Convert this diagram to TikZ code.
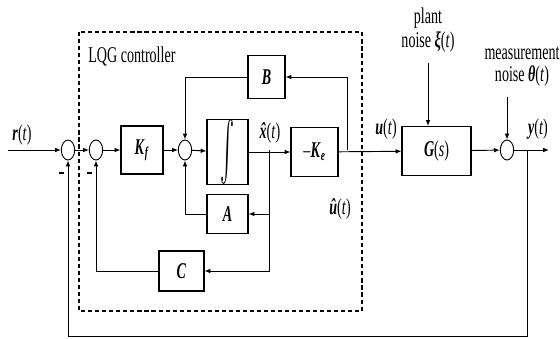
\documentclass[tikz,border=0pt]{standalone}
\usepackage{fontspec}
\setmainfont{Liberation Serif}
\usepackage{graphicx}
\usetikzlibrary{arrows.meta,shapes.geometric}

\newcommand{\bi}[1]{\textbf{\textit{#1}}}
\newcommand{\tall}[1]{\scalebox{1}[1.6]{#1}}
\newcommand{\hatbi}[1]{\ooalign{\bi{#1}\cr\hidewidth\bi{ˆ}\hidewidth\cr}}

\begin{document}
\begin{tikzpicture}[x=0.03cm, y=-0.03cm,
  blk/.style={draw, line width=0.9pt, inner sep=0pt, font=\large},
  sumnode/.style={draw, ellipse, line width=0.8pt, minimum width=0.4cm, minimum height=0.6cm, inner sep=0pt},
  sig/.style={line width=0.8pt, -{Latex[length=5pt, width=4pt]}},
  lbl/.style={font=\large, inner sep=1pt},
  ctrlbox/.style={line width=1pt, dash pattern=on 3.5pt off 2.5pt},
]
\useasboundingbox (0,0) rectangle (560,339);

%% -- Controller frame ---------------------------------------------------------
\draw[ctrlbox] (79,32) rectangle (362,311);
\node[lbl, anchor=west] (ctrl) at (87,57) {\tall{LQG controller}};

%% -- Summing junctions --------------------------------------------------------
\node[sumnode] (s1) at (68,150) {};
\node[sumnode] (s2) at (96,150) {};
\node[sumnode] (s3) at (185,150) {};
\node[sumnode] (s4) at (507,150) {};

%% -- Blocks -------------------------------------------------------------------
\node[blk, minimum width=1.26cm, minimum height=1.44cm] (kf) at (142,150) {\tall{\bi{K}\textsubscript{\bi{f}}}};
\node[blk, minimum width=1.23cm, minimum height=1.83cm] (int) at (227.5,152) {\resizebox{0.42cm}{1.5cm}{$\int$}};
\node[blk, minimum width=1.41cm, minimum height=1.47cm] (ke) at (314.5,152) {\tall{--\bi{K}\textsubscript{\bi{e}}}};
\node[blk, minimum width=1.11cm, minimum height=1.29cm] (b) at (266.5,77) {\tall{\bi{B}}};
\node[blk, minimum width=1.23cm, minimum height=1.17cm] (a) at (227.5,214) {\tall{\bi{A}}};
\node[blk, minimum width=1.35cm, minimum height=1.2cm] (c) at (181.5,271) {\tall{\bi{C}}};
\node[blk, minimum width=2.07cm, minimum height=1.47cm] (g) at (436.5,151) {\tall{\bi{G}(\textit{s})}};

%% -- Branch points and free ends ----------------------------------------------
\coordinate (rin) at (8,150);
\coordinate (xb) at (269,150);
\coordinate (ub) at (347,150);
\coordinate (yb) at (527,150);
\coordinate (yout) at (549,150);
\coordinate (fb) at (527,336);
\coordinate (pn) at (428,63);
\coordinate (mn) at (507,97);

%% -- Forward path -------------------------------------------------------------
\draw[sig] (rin) -- (s1);
\draw[sig] (s1) -- (s2);
\draw[sig] (s2) -- (kf);
\draw[sig] (kf) -- (s3);
\draw[sig] (s3) -- (int);
\draw[sig] (int) -- (ke);
\draw[sig] (ke) -- (g);
\draw[sig] (g) -- (s4);
\draw[sig] (s4) -- (yout);

%% -- Inner loops --------------------------------------------------------------
\draw[sig] (ub) |- (b);
\draw[sig] (b) -| (s3);
\draw[sig] (xb) |- (a);
\draw[sig] (a) -| (s3);
\draw[sig] (xb) |- (c);
\draw[sig] (c) -| (s2);

%% -- Noise inputs and output feedback -----------------------------------------
\draw[sig] (pn) -- (pn |- g.north);
\draw[sig] (mn) -- (s4);
\draw[sig] (yb) -- (fb) -| (s1);

%% -- Signal labels ------------------------------------------------------------
\node[lbl] (rl) at (22,135) {\tall{\bi{r}(\textit{t})}};
\node[lbl] (xl) at (270,133) {\tall{\hatbi{x}(\textit{t})}};
\node[lbl] (uhl) at (340,209) {\tall{\hatbi{u}(\textit{t})}};
\node[lbl] (ul) at (386,129) {\tall{\bi{u}(\textit{t})}};
\node[lbl] (yl) at (538,129) {\tall{\bi{y}(\textit{t})}};
\node[lbl] (pl) at (428,30) {\tall{\begin{tabular}{@{}c@{}}plant\\[-1pt] noise \bi{ξ}(\textit{t})\end{tabular}}};
\node[lbl] (ml) at (522,65) {\tall{\begin{tabular}{@{}c@{}}measurement\\[-2pt] noise \bi{θ}(\textit{t})\end{tabular}}};
\node[lbl] (m1) at (61,173) {\rule{0.15cm}{0.06cm}};
\node[lbl] (m2) at (89,173) {\rule{0.15cm}{0.06cm}};

\end{tikzpicture}
\end{document}
